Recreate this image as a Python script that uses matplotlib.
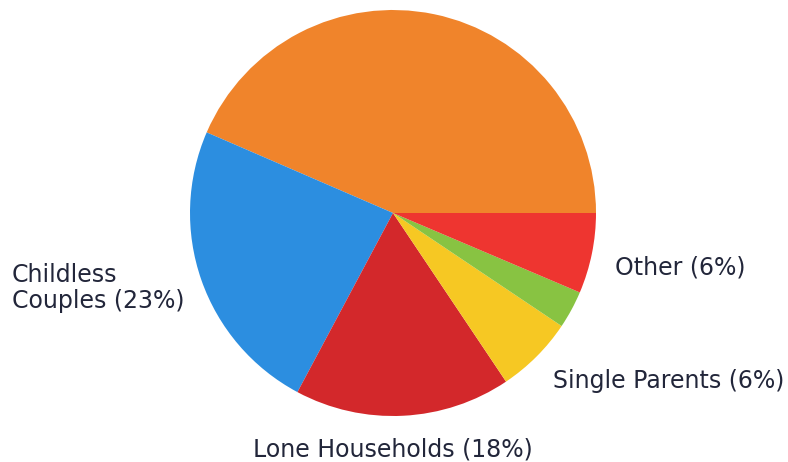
import matplotlib
matplotlib.use("Agg")
import matplotlib.pyplot as plt

# Slice sizes (percent), counterclockwise from 3 o'clock
shares = [43.5, 23.7, 17.2, 6.2, 3.0, 6.4]
colors = ["#F0842B", "#2C8EE0", "#D3282B", "#F6C823", "#88C342", "#EE3530"]
label_texts = ["Childless", "Couples (23%)", "Other (6%)",
               "Single Parents (6%)", "Lone Households (18%)"]

W, H = 788, 462
fig = plt.figure(figsize=(W / 100, H / 100), dpi=100)
ax = fig.add_axes([0, 0, 1, 1])

# pie centre and radius in pixel units (y measured from the bottom)
cx, cy, r = 393, H - 213, 203
ax.pie(shares, colors=colors, startangle=0, counterclock=True,
       center=(cx, cy), radius=r, frame=True,
       wedgeprops=dict(linewidth=0))
ax.set_xlim(0, W)
ax.set_ylim(0, H)
ax.set_aspect("equal")
ax.axis("off")

# labels, baseline positions in pixels from the top
txt = dict(fontsize=17, color="#22263a", family="DejaVu Sans",
           ha="left", va="baseline")
ax.text(12, H - 282, label_texts[0], **txt)
ax.text(12, H - 308, label_texts[1], **txt)
ax.text(615, H - 274, label_texts[2], **txt)
ax.text(553, H - 388, label_texts[3], **txt)
ax.text(253, H - 456, label_texts[4], **txt)

fig.savefig("out.png", dpi=100)
